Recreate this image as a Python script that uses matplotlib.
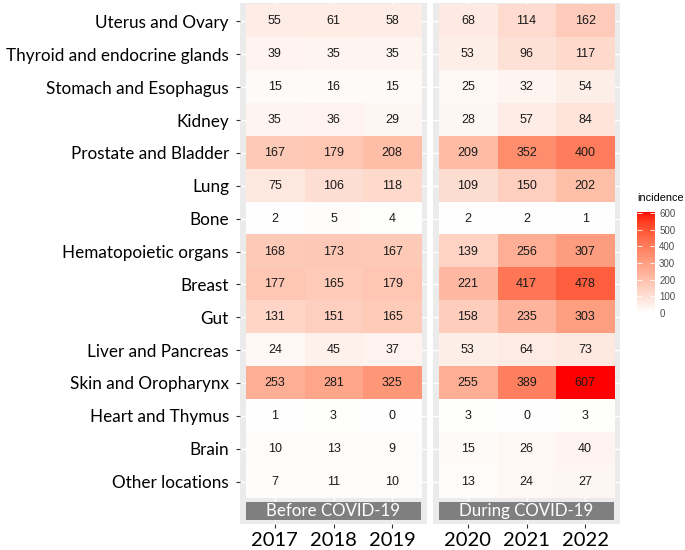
import numpy as np
import matplotlib
matplotlib.use("Agg")
import matplotlib.pyplot as plt
from matplotlib.colors import ListedColormap, Normalize
import matplotlib.cm as cm

# data
sites = ["Uterus and Ovary", "Thyroid and endocrine glands", "Stomach and Esophagus",
         "Kidney", "Prostate and Bladder", "Lung", "Bone", "Hematopoietic organs",
         "Breast", "Gut", "Liver and Pancreas", "Skin and Oropharynx",
         "Heart and Thymus", "Brain", "Other locations"]
years_before = ["2017", "2018", "2019"]
years_during = ["2020", "2021", "2022"]
before = [[55, 61, 58], [39, 35, 35], [15, 16, 15], [35, 36, 29], [167, 179, 208],
          [75, 106, 118], [2, 5, 4], [168, 173, 167], [177, 165, 179], [131, 151, 165],
          [24, 45, 37], [253, 281, 325], [1, 3, 0], [10, 13, 9], [7, 11, 10]]
during = [[68, 114, 162], [53, 96, 117], [25, 32, 54], [28, 57, 84], [209, 352, 400],
          [109, 150, 202], [2, 2, 1], [139, 256, 307], [221, 417, 478], [158, 235, 303],
          [53, 64, 73], [255, 389, 607], [3, 0, 3], [15, 26, 40], [13, 24, 27]]
facets = ["Before COVID-19", "During COVID-19"]


# white -> red gradient interpolated in CIELAB, like ggplot's scale_fill_gradient
def srgb_to_lab(rgb):
    rgb = np.asarray(rgb, float)
    lin = np.where(rgb <= 0.04045, rgb / 12.92, ((rgb + 0.055) / 1.055) ** 2.4)
    M = np.array([[0.4124, 0.3576, 0.1805], [0.2126, 0.7152, 0.0722], [0.0193, 0.1192, 0.9505]])
    xyz = M @ lin / np.array([0.95047, 1.0, 1.08883])
    f = np.where(xyz > 0.008856, np.cbrt(xyz), 7.787 * xyz + 16 / 116)
    return np.array([116 * f[1] - 16, 500 * (f[0] - f[1]), 200 * (f[1] - f[2])])


def lab_to_srgb(lab):
    L, a, b = lab
    fy = (L + 16) / 116
    fx = fy + a / 500
    fz = fy - b / 200
    f = np.array([fx, fy, fz])
    xyz = np.where(f ** 3 > 0.008856, f ** 3, (f - 16 / 116) / 7.787) * np.array([0.95047, 1.0, 1.08883])
    Minv = np.array([[3.2406, -1.5372, -0.4986], [-0.9689, 1.8758, 0.0415], [0.0557, -0.2040, 1.0570]])
    lin = Minv @ xyz
    lin = np.clip(lin, 0, 1)
    rgb = np.where(lin <= 0.0031308, 12.92 * lin, 1.055 * lin ** (1 / 2.4) - 0.055)
    return np.clip(rgb, 0, 1)


lab_lo = srgb_to_lab([1, 1, 1])
lab_hi = srgb_to_lab([1, 0, 0])
cols = [lab_to_srgb(lab_lo + t * (lab_hi - lab_lo)) for t in np.linspace(0, 1, 256)]
cmap = ListedColormap(cols)
vmax = max(max(r) for r in before + during)
norm = Normalize(0, vmax)

label_font = ["Lato", "DejaVu Sans"]

fig = plt.figure(figsize=(6.85, 5.5), dpi=100)
W, H = 685, 550


def pos(x0, y0, x1, y1):
    return [x0 / W, 1 - y1 / H, (x1 - x0) / W, (y1 - y0) / H]


panels = [(before, years_before, 240), (during, years_during, 433)]
for k, (vals, yrs, x0) in enumerate(panels):
    ax = fig.add_axes(pos(x0, 3, x0 + 187, 524))
    ax.set_facecolor("#EBEBEB")
    arr = np.array(vals, float)
    ax.imshow(arr, cmap=cmap, norm=norm, aspect="auto", interpolation="nearest",
              extent=(-0.5, 2.5, 14.5, -0.5), zorder=2)
    for i in range(len(sites)):
        for j in range(3):
            ax.text(j, i, str(vals[i][j]), ha="center", va="center", fontsize=9,
                    family="Liberation Sans", color="#1A1A1A", zorder=3)
    ax.set_xlim(-0.594, 2.594)
    ax.set_ylim(15.29, -0.56)
    ax.set_xticks(range(3))
    ax.set_xticklabels(yrs, fontsize=14.5, family=label_font, color="black")
    ax.set_yticks(range(len(sites)))
    ax.tick_params(axis="both", color="#333333", length=3, width=0.8, pad=3)
    if k == 0:
        ax.set_yticklabels(sites, fontsize=12.3, family=label_font, color="black")
        ax.tick_params(axis="y", pad=5)
    else:
        ax.set_yticklabels([])
        ax.tick_params(axis="y", length=0)
    ax.grid(True, color="white", linewidth=1.0, zorder=0)
    ax.set_axisbelow(True)
    for s in ax.spines.values():
        s.set_visible(False)
    ax.add_patch(plt.Rectangle((-0.5, 14.62), 3, 0.55, facecolor="#7F7F7F",
                               edgecolor="none", zorder=4))
    ax.text(1, 14.9, facets[k], ha="center", va="center", color="white",
            fontsize=12.2, family=label_font, zorder=5)

# colour bar legend
cax = fig.add_axes(pos(637, 212, 655, 313))
cb = fig.colorbar(cm.ScalarMappable(norm=norm, cmap=cmap), cax=cax,
                  ticks=[0, 100, 200, 300, 400, 500, 600])
cb.outline.set_visible(False)
cax.tick_params(axis="y", direction="in", color="white", length=3.5, width=0.6,
                left=True, right=True, labelsize=7, labelcolor="#4D4D4D", pad=3)
for lab in cax.get_yticklabels():
    lab.set_family("Liberation Sans")
fig.text(637 / W, 1 - 198 / H, "incidence", fontsize=7.8, family="Liberation Sans",
         color="black", ha="left", va="center")

fig.savefig("out.png", dpi=100)
